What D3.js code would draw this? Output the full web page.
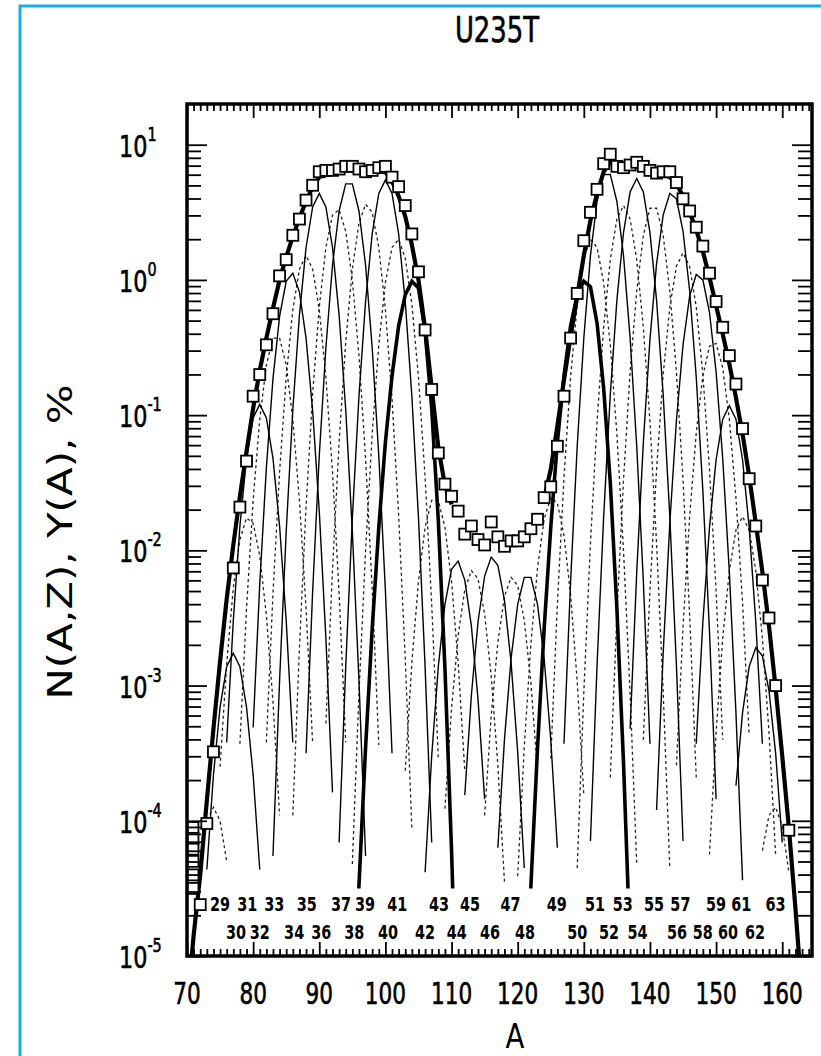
<!DOCTYPE html>
<html>
<head>
<meta charset="utf-8">
<script src="https://cdn.jsdelivr.net/npm/d3@7"></script>
<style>
  body { margin: 0; background: #fff; }
  text { font-family: 'Liberation Sans Narrow', 'DejaVu Sans Condensed', 'Roboto Condensed', 'DejaVu Sans', sans-serif; fill: #000; }
  .heavy { stroke: #000; stroke-width: 0.6; }
</style>
</head>
<body>
<div id="chart"></div>
<script>
// ---- data (log10 of percent) ----
// element curves N(A,Z): Z, first A, then one value per integer A
var curveZ = [29,30,31,32,33,34,35,36,37,38,39,40,41,42,43,44,45,46,47,48,49,50,51,52,53,54,55,56,57,58,59,60,61,62,63];
var curveA0 = [72,73,75,76,78,80,82,83,86,88,91,93,95,95,103,106,109,112,115,117,120,121,125,127,129,131,134,137,139,141,144,147,149,153,157];
var curveLog = [
  [-4.3,-4.0,-3.9,-4.0,-4.3],
  [-4.36,-3.66,-3.16,-2.86,-2.76,-2.86,-3.16,-3.66,-4.36],
  [-3.6,-2.84,-2.28,-1.92,-1.76,-1.8,-2.04,-2.48,-3.12,-3.96],
  [-3.42,-2.52,-1.82,-1.32,-1.02,-0.92,-1.02,-1.32,-1.82,-2.52,-3.42],
  [-3.43,-2.43,-1.63,-1.03,-0.63,-0.43,-0.43,-0.63,-1.03,-1.63,-2.43,-3.43],
  [-3.31,-2.25,-1.39,-0.73,-0.27,-0.01,0.05,-0.09,-0.43,-0.97,-1.71,-2.65,-3.79],
  [-3.42,-2.32,-1.42,-0.72,-0.22,0.08,0.18,0.08,-0.22,-0.72,-1.42,-2.32,-3.42],
  [-4.26,-2.96,-1.86,-0.96,-0.26,0.24,0.54,0.64,0.54,0.24,-0.26,-0.96,-1.86,-2.96,-4.26],
  [-3.96,-2.72,-1.68,-0.84,-0.2,0.24,0.48,0.52,0.36,0.0,-0.56,-1.32,-2.28,-3.44],
  [-3.5,-2.3,-1.3,-0.5,0.11,0.51,0.71,0.71,0.51,0.11,-0.5,-1.3,-2.3,-3.5],
  [-3.28,-2.14,-1.2,-0.46,0.08,0.42,0.56,0.5,0.24,-0.22,-0.88,-1.74,-2.8,-4.06],
  [-4.16,-2.86,-1.76,-0.86,-0.16,0.34,0.64,0.74,0.64,0.34,-0.16,-0.86,-1.76,-2.86,-4.16],
  [-4.32,-3.06,-2.0,-1.14,-0.48,-0.02,0.24,0.3,0.16,-0.18,-0.72,-1.46,-2.4,-3.54],
  [-5.62,-4.48,-3.46,-2.58,-1.83,-1.2,-0.71,-0.34,-0.11,-0.01,-0.06,-0.38,-0.95,-1.78,-2.87,-4.22,-5.84],
  [-3.63,-2.83,-2.23,-1.83,-1.63,-1.63,-1.83,-2.23,-2.83,-3.63],
  [-4.38,-3.52,-2.86,-2.4,-2.14,-2.08,-2.22,-2.56,-3.1,-3.84],
  [-3.91,-3.17,-2.63,-2.29,-2.15,-2.21,-2.47,-2.93,-3.59,-4.45],
  [-3.81,-3.07,-2.53,-2.19,-2.05,-2.11,-2.37,-2.83,-3.49,-4.35],
  [-3.96,-3.22,-2.68,-2.34,-2.2,-2.26,-2.52,-2.98,-3.64],
  [-4.2,-3.4,-2.8,-2.4,-2.2,-2.2,-2.4,-2.8,-3.4,-4.2],
  [-4.41,-3.45,-2.69,-2.13,-1.77,-1.61,-1.65,-1.89,-2.33,-2.97,-3.81],
  [-5.62,-4.48,-3.46,-2.58,-1.83,-1.2,-0.71,-0.34,-0.11,-0.01,-0.05,-0.32,-0.8,-1.5,-2.43,-3.57,-4.94],
  [-3.54,-2.4,-1.46,-0.72,-0.18,0.16,0.3,0.24,-0.02,-0.48,-1.14,-2.0,-3.06,-4.32],
  [-3.43,-2.23,-1.23,-0.43,0.18,0.58,0.78,0.78,0.58,0.18,-0.43,-1.23,-2.23,-3.43],
  [-4.35,-3.05,-1.95,-1.05,-0.35,0.15,0.45,0.55,0.45,0.15,-0.35,-1.05,-1.95,-3.05,-4.35],
  [-4.15,-2.85,-1.75,-0.85,-0.15,0.35,0.65,0.75,0.65,0.35,-0.15,-0.85,-1.75,-2.85,-4.15],
  [-3.68,-2.48,-1.48,-0.68,-0.08,0.33,0.53,0.53,0.33,-0.08,-0.68,-1.48,-2.48,-3.68],
  [-3.32,-2.16,-1.2,-0.44,0.12,0.48,0.64,0.6,0.36,-0.08,-0.72,-1.56,-2.6,-3.84],
  [-3.4,-2.3,-1.4,-0.7,-0.2,0.1,0.2,0.1,-0.2,-0.7,-1.4,-2.3,-3.4],
  [-3.92,-2.76,-1.8,-1.04,-0.48,-0.12,0.04,0.0,-0.24,-0.68,-1.32,-2.16,-3.2,-4.44],
  [-3.59,-2.57,-1.75,-1.13,-0.71,-0.49,-0.47,-0.65,-1.03,-1.61,-2.39,-3.37],
  [-3.43,-2.53,-1.83,-1.33,-1.03,-0.93,-1.03,-1.33,-1.83,-2.53,-3.43],
  [-4.25,-3.35,-2.65,-2.15,-1.85,-1.75,-1.85,-2.15,-2.65,-3.35,-4.25],
  [-3.74,-3.2,-2.86,-2.72,-2.78,-3.04,-3.5,-4.16],
  [-4.22,-3.96,-3.9,-4.04,-4.38]
];
var thickZ = [42, 50];

// calculated mass yield Y(A), two wings
var modelLightA0 = 70;
var modelLight = [-5.4,-4.85,-4.4,-3.85,-3.32,-2.82,-2.36,-1.96,-1.6,-1.27,-0.95,-0.67,-0.43,-0.21,0.0,0.17,0.32,0.46,0.58,0.69,
  0.76,0.79,0.8,0.81,0.82,0.83,0.82,0.8,0.79,0.8,0.8,0.73,0.62,0.47,0.26,0.0,-0.36,-0.8,-1.24,-1.52,-1.66];
var modelHeavyA0 = 124;
var modelHeavy = [-1.62,-1.4,-1.08,-0.74,-0.42,-0.12,0.18,0.44,0.64,0.8,0.87,0.85,0.83,0.83,0.84,0.83,0.81,0.79,0.78,0.76,
  0.71,0.62,0.5,0.37,0.21,0.02,-0.19,-0.4,-0.62,-0.87,-1.14,-1.45,-1.8,-2.16,-2.56,-3.02,-3.52,-4.05,-4.65,-5.3];

// measured mass yields (squares)
var expA = [70.9,70.9,70.9,70.9,70.9,70.9,72,73,74,77,78,79,80,81,82,83,84,85,86,87,88,89,90,91,92,93,94,95,96,97,98,99,100,
  101,102,103,104,105,106,107,108,109,110,111,112,113,114,115,116,117,118,119,120,121,122,123,124,125,126,127,128,129,130,
  131,132,133,134,135,136,137,138,139,140,141,142,143,144,145,146,147,148,149,150,151,152,153,154,155,156,157,158,159,161];
var expLog = [-4.05,-4.13,-4.21,-4.3,-4.4,-4.5,-4.62,-4.02,-3.49,-2.13,-1.68,-1.34,-0.86,-0.7,-0.48,-0.25,0.03,0.15,0.33,0.45,0.59,0.7,0.8,0.81,0.81,0.82,0.84,0.84,0.82,0.8,0.81,0.83,0.84,
  0.76,0.69,0.55,0.34,0.06,-0.37,-0.81,-1.28,-1.51,-1.6,-1.71,-1.88,-1.82,-1.92,-1.96,-1.79,-1.9,-1.97,-1.93,-1.93,-1.9,-1.84,-1.77,-1.61,-1.53,-1.23,-0.86,-0.43,-0.1,0.29,
  0.5,0.67,0.86,0.93,0.84,0.83,0.85,0.87,0.84,0.81,0.79,0.8,0.8,0.72,0.6,0.51,0.39,0.25,0.05,-0.16,-0.35,-0.56,-0.77,-1.1,-1.47,-1.82,-2.22,-2.5,-3.0,-4.07];

// Z labels at the bottom, positions in A
var oddZ = [29,31,33,35,37,39,41,43,45,47,49,51,53,55,57,59,61,63];
var oddZA = [75.0,79.1,83.2,88.1,93.3,96.9,101.8,108.1,112.8,118.9,125.9,131.7,135.9,140.6,144.6,150.0,153.8,159.0];
var evenZ = [30,32,34,36,38,40,42,44,46,48,50,52,54,56,58,60,62];
var evenZA = [77.4,81.0,86.2,90.3,95.3,100.4,106.0,110.8,115.8,121.1,129.0,133.8,138.1,144.1,148.0,151.8,155.9];

var xTicks = [70,80,90,100,110,120,130,140,150,160];
var yDecades = [-5,-4,-3,-2,-1,0,1];

// ---- layout ----
var W = 821, H = 1056;
var margin = {left: 187, right: 9, top: 104, bottom: 100};
var x = d3.scaleLinear().domain([70, 164.5]).range([margin.left, W - margin.right]);
var y = d3.scaleLog().domain([1e-5, 20]).range([H - margin.bottom, margin.top]);
var pw = W - margin.left - margin.right, ph = H - margin.top - margin.bottom;
var squeeze = 0.8; // scanned lettering is narrow

var svg = d3.select('#chart').append('svg')
    .attr('width', W).attr('height', H);
svg.append('rect').attr('width', W).attr('height', H).attr('fill', '#fff');

// blue screenshot frame
svg.append('path').attr('d', 'M20,' + H + 'V6H' + W)
    .attr('fill', 'none').attr('stroke', '#1aaee8').attr('stroke-width', 3);

var defs = svg.append('defs');
defs.append('clipPath').attr('id', 'plotclip').append('rect')
    .attr('x', margin.left).attr('y', margin.top).attr('width', pw).attr('height', ph);
defs.append('clipPath').attr('id', 'curveclip').append('rect')
    .attr('x', margin.left).attr('y', margin.top).attr('width', pw)
    .attr('height', y(Math.pow(10, -4.5)) - margin.top);

var line = d3.line()
    .x(function(d){ return x(d.a); })
    .y(function(d){ return y(Math.pow(10, d.v)); });

function toPts(a0, vals){
    return vals.map(function(v, i){ return {a: a0 + i, v: v}; });
}

// element curves: dashed for odd Z, solid for even Z
var curves = curveZ.map(function(z, i){ return {z: z, pts: toPts(curveA0[i], curveLog[i])}; });
var gc = svg.append('g').attr('clip-path', 'url(#curveclip)');
gc.selectAll('path.odd')
    .data(curves.filter(function(d){ return d.z % 2 === 1; }))
    .enter().append('path')
    .attr('class', 'odd')
    .attr('d', function(d){ return line(d.pts); })
    .attr('fill', 'none').attr('stroke', '#222')
    .attr('stroke-width', 1.3).attr('stroke-dasharray', '3,3');
gc.selectAll('path.even')
    .data(curves.filter(function(d){ return d.z % 2 === 0; }))
    .enter().append('path')
    .attr('class', 'even')
    .attr('d', function(d){ return line(d.pts); })
    .attr('fill', 'none').attr('stroke', '#000')
    .attr('stroke-width', function(d){ return thickZ.indexOf(d.z) >= 0 ? 3.6 : 1.4; });

// calculated Y(A)
var gm = svg.append('g').attr('clip-path', 'url(#plotclip)');
[toPts(modelLightA0, modelLight), toPts(modelHeavyA0, modelHeavy)].forEach(function(p){
    gm.append('path').attr('d', line(p))
        .attr('fill', 'none').attr('stroke', '#000').attr('stroke-width', 4.2)
        .attr('stroke-linejoin', 'round');
});

// measured points
var sq = 11;
svg.append('g').selectAll('rect')
    .data(expA.map(function(a, i){ return {a: a, v: expLog[i]}; }))
    .enter().append('rect')
    .attr('x', function(d){ return x(d.a) - sq / 2; })
    .attr('y', function(d){ return y(Math.pow(10, d.v)) - sq / 2; })
    .attr('width', sq).attr('height', sq)
    .attr('fill', '#fff').attr('stroke', '#000').attr('stroke-width', 1.8);

// frame
svg.append('rect').attr('x', margin.left).attr('y', margin.top)
    .attr('width', pw).attr('height', ph)
    .attr('fill', 'none').attr('stroke', '#000').attr('stroke-width', 3.5);

// ticks (all pointing inside)
var minorX = d3.range(71, 165).filter(function(v){ return v % 10 !== 0; });
var minorY = [];
yDecades.forEach(function(k){
    for (var m = 2; m <= 9; m++) { var v = m * Math.pow(10, k); if (v < 20) minorY.push(v); }
});
var majorY = yDecades.map(function(k){ return Math.pow(10, k); });

function addAxis(axis, tr){
    var g = svg.append('g').attr('transform', tr).call(axis);
    g.select('.domain').remove();
    g.selectAll('line').attr('stroke', '#000').attr('stroke-width', 1.8);
    return g;
}
var yb = H - margin.bottom, xr = W - margin.right;
addAxis(d3.axisBottom(x).tickValues(xTicks).tickSize(-14).tickFormat(''), 'translate(0,' + yb + ')');
addAxis(d3.axisBottom(x).tickValues(minorX).tickSize(-7).tickFormat(''), 'translate(0,' + yb + ')');
addAxis(d3.axisTop(x).tickValues(xTicks).tickSize(-14).tickFormat(''), 'translate(0,' + margin.top + ')');
addAxis(d3.axisTop(x).tickValues(minorX).tickSize(-7).tickFormat(''), 'translate(0,' + margin.top + ')');
addAxis(d3.axisLeft(y).tickValues(majorY).tickSize(-20).tickFormat(''), 'translate(' + margin.left + ',0)');
addAxis(d3.axisLeft(y).tickValues(minorY).tickSize(-14).tickFormat(''), 'translate(' + margin.left + ',0)');
addAxis(d3.axisRight(y).tickValues(majorY).tickSize(-20).tickFormat(''), 'translate(' + xr + ',0)');
addAxis(d3.axisRight(y).tickValues(minorY).tickSize(-14).tickFormat(''), 'translate(' + xr + ',0)');

// narrow text placed through a transform
function place(sel, fx, fy){
    return sel.attr('transform', function(d, i){
        return 'translate(' + fx(d, i) + ',' + fy(d, i) + ') scale(' + squeeze + ',1)';
    });
}

// x tick labels
place(svg.append('g').selectAll('text').data(xTicks).enter().append('text'),
      function(d){ return x(d); }, function(){ return yb + 48; })
    .attr('class', 'heavy')
    .attr('text-anchor', 'middle').attr('font-size', 30)
    .text(function(d){ return d; });

// y tick labels 10^k
var yl = place(svg.append('g').selectAll('text').data(yDecades).enter().append('text'),
      function(){ return 119; }, function(k){ return y(Math.pow(10, k)) + 12; })
    .attr('class', 'heavy')
    .attr('font-size', 31);
yl.append('tspan').text('10');
yl.append('tspan').attr('dy', -16).attr('font-size', 20)
    .text(function(k){ return k < 0 ? '-' + (-k) : String(k); });

// Z labels
place(svg.append('g').selectAll('text').data(oddZ).enter().append('text'),
      function(d, i){ return x(oddZA[i]); }, function(){ return yb - 45; })
    .attr('text-anchor', 'middle').attr('font-size', 20).attr('font-weight', 'bold')
    .text(function(d){ return d; });
place(svg.append('g').selectAll('text').data(evenZ).enter().append('text'),
      function(d, i){ return x(evenZA[i]); }, function(){ return yb - 17; })
    .attr('text-anchor', 'middle').attr('font-size', 20).attr('font-weight', 'bold')
    .text(function(d){ return d; });

// titles
svg.append('text').attr('transform', 'translate(497,42) scale(' + squeeze + ',1)')
    .attr('class', 'heavy')
    .attr('text-anchor', 'middle').attr('font-size', 36).text('U235T');
svg.append('text').attr('transform', 'translate(515,1048) scale(0.9,1)')
    .attr('text-anchor', 'middle').attr('font-size', 34).text('A');
svg.append('text')
    .attr('transform', 'translate(72,542) rotate(-90)')
    .attr('text-anchor', 'middle').attr('font-size', 34)
    .attr('textLength', 315).attr('lengthAdjust', 'spacingAndGlyphs')
    .text('N(A,Z), Y(A), %');
</script>
</body>
</html>
